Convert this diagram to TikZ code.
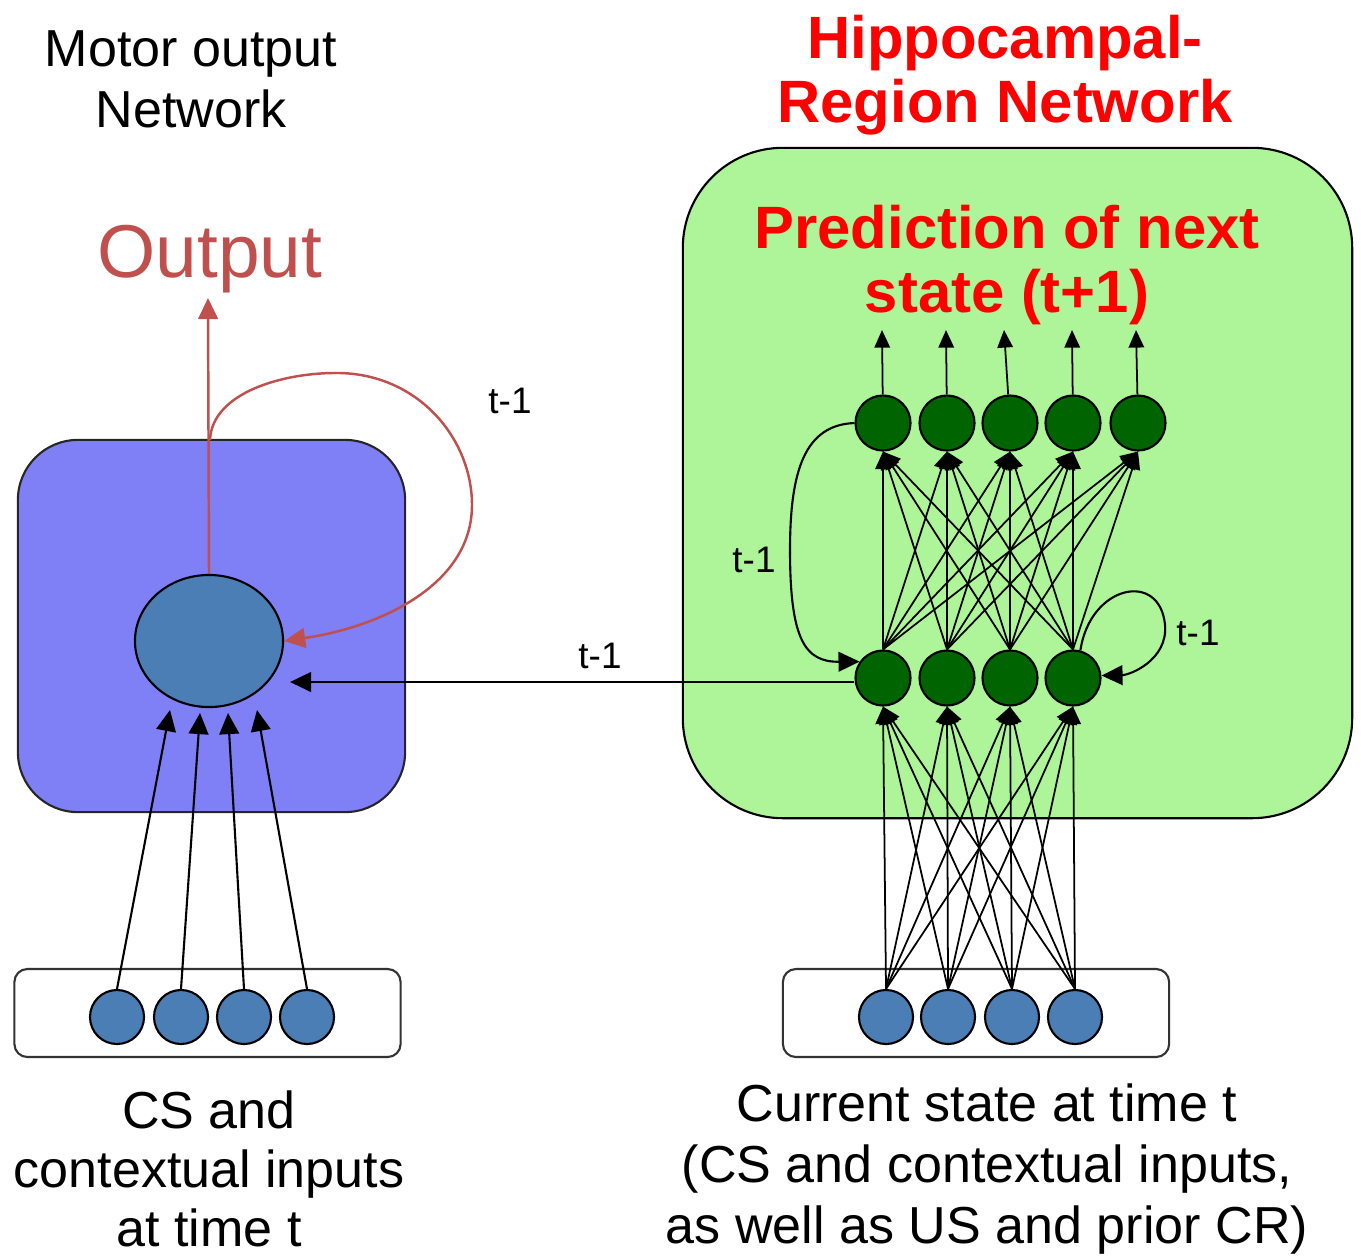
\documentclass[tikz,border=0pt]{standalone}
\usepackage{fontspec}
\setmainfont{Liberation Sans}
\usepackage[svgnames]{xcolor}
\usepackage{tikz}
\usetikzlibrary{arrows.meta,shapes}
\definecolor{motorfill}{RGB}{127,127,246}
\definecolor{hippofill}{RGB}{173,245,152}
\definecolor{unitblue}{RGB}{74,126,181}
\definecolor{hiddengreen}{RGB}{0,100,0}
\definecolor{outred}{RGB}{192,80,77}
\definecolor{titlered}{RGB}{255,0,0}
\pgfdeclarelayer{boxlayer}
\pgfdeclarelayer{edgelayer}
\pgfdeclarelayer{nodelayer}
\pgfsetlayers{boxlayer,edgelayer,nodelayer,main}
\tikzstyle{motorbox}=[rectangle,rounded corners=0.6cm,fill=motorfill,draw=black!85,line width=0.6pt,minimum width=3.87cm,minimum height=3.72cm]
\tikzstyle{hippobox}=[rectangle,rounded corners=1cm,fill=hippofill,draw=black,line width=0.6pt,minimum width=6.69cm,minimum height=6.70cm]
\tikzstyle{inputbox}=[rectangle,rounded corners=0.13cm,fill=white,draw=black!80,line width=0.6pt,minimum width=3.86cm,minimum height=0.88cm]
\tikzstyle{motorunit}=[ellipse,fill=unitblue,draw=black,line width=0.6pt,minimum width=1.48cm,minimum height=1.32cm,inner sep=0pt]
\tikzstyle{unit}=[circle,fill=unitblue,draw=black,line width=0.6pt,minimum size=0.54cm,inner sep=0pt]
\tikzstyle{hidden}=[circle,fill=hiddengreen,draw=black,line width=0.6pt,minimum size=0.55cm,inner sep=0pt]
\tikzstyle{inarrow}=[-{Triangle[length=6pt,width=5.6pt]},line width=0.6pt]
\tikzstyle{netarrow}=[-{Triangle[length=5pt,width=4.4pt]},line width=0.5pt]
\tikzstyle{redarrow}=[-{Triangle[length=6pt,width=5.6pt]},draw=outred,line width=0.7pt]
\tikzstyle{title}=[align=center,inner sep=0pt,font=\fontsize{14.8}{17.4}\selectfont]
\tikzstyle{redtitle}=[align=center,inner sep=0pt,text=titlered,font=\fontsize{17}{18.3}\selectfont\bfseries]
\tikzstyle{outtext}=[inner sep=0pt,text=outred,font=\fontsize{21.3}{24}\selectfont]
\tikzstyle{tlabel}=[inner sep=0pt,font=\fontsize{10.5}{12}\selectfont]

\begin{document}
\begin{tikzpicture}[x=0.01cm,y=-0.01cm]
	\useasboundingbox (0,0) rectangle (1361,1257);
	\begin{pgfonlayer}{boxlayer}
		\node [style=motorbox] (motorbox) at (211.5,626) {};
		\node [style=hippobox] (hippobox) at (1017.5,483) {};
		\node [style=inputbox] (csbox) at (207.5,1013) {};
		\node [style=inputbox] (statebox) at (976,1013) {};
	\end{pgfonlayer}
	\begin{pgfonlayer}{nodelayer}
		\node [style=title] (motortitle) at (191,79) {Motor output\\Network};
		\node [style=redtitle] (hippotitle) at (1005,75) {Hippocampal-\\Region Network};
		\node [style=redtitle] (predtitle) at (1007,265) {Prediction of next\\state (t+1)};
		\node [style=outtext, anchor=base] (outtext) at (210,277) {Output};
		\node [style=title, font=\fontsize{14.8}{16.8}\selectfont] (cstext) at (209,1169) {CS and\\contextual inputs\\at time t};
		\node [style=title] (statetext) at (987,1169) {Current state at time t\\(CS and contextual inputs,\\as well as US and prior CR)};

		\node [style=motorunit] (motor) at (209,641) {};
		\node [style=unit] (in1) at (117,1017) {};
		\node [style=unit] (in2) at (181,1017) {};
		\node [style=unit] (in3) at (244,1017) {};
		\node [style=unit] (in4) at (307,1017) {};

		\node [style=unit] (rin1) at (886,1017) {};
		\node [style=unit] (rin2) at (948,1017) {};
		\node [style=unit] (rin3) at (1012,1017) {};
		\node [style=unit] (rin4) at (1075,1017) {};
		\node [style=hidden] (mid1) at (883,678) {};
		\node [style=hidden] (mid2) at (947,678) {};
		\node [style=hidden] (mid3) at (1010,678) {};
		\node [style=hidden] (mid4) at (1073,678) {};
		\node [style=hidden] (top1) at (883,423) {};
		\node [style=hidden] (top2) at (947,423) {};
		\node [style=hidden] (top3) at (1010,423) {};
		\node [style=hidden] (top4) at (1073,423) {};
		\node [style=hidden] (top5) at (1138,423) {};

		\node [style=tlabel, anchor=base] (tloop) at (510,413) {t-1};
		\node [style=tlabel, anchor=base] (tcross) at (600,668) {t-1};
		\node [style=tlabel, anchor=base] (tback) at (754,572) {t-1};
		\node [style=tlabel, anchor=base] (tself) at (1198,645) {t-1};

		\coordinate (outtip) at (208,298);
		\coordinate (split) at (210,440);
		\coordinate (tip1) at (170,710);
		\coordinate (tip2) at (200,713);
		\coordinate (tip3) at (228,713);
		\coordinate (tip4) at (257,710);
		\coordinate (tipH) at (290,682);
		\coordinate (pred1) at (882,330);
		\coordinate (pred2) at (946,330);
		\coordinate (pred3) at (1004,330);
		\coordinate (pred4) at (1072,330);
		\coordinate (pred5) at (1136,330);
	\end{pgfonlayer}
	\begin{pgfonlayer}{edgelayer}
		\draw [style=redarrow] (motor.north) to (outtip);
		\draw [style=redarrow] (split) .. controls (212,392) and (285,372) .. (340,373) .. controls (420,375) and (472,440) .. (472,505) .. controls (472,585) and (380,627) .. (motor.east);
		\draw [style=inarrow] (in1.north) to (tip1);
		\draw [style=inarrow] (in2.north) to (tip2);
		\draw [style=inarrow] (in3.north) to (tip3);
		\draw [style=inarrow] (in4.north) to (tip4);
		\draw [style=inarrow] (mid1.west |- tipH) to (tipH);

		\draw [style=netarrow] (rin1.north) to (mid1.south);
		\draw [style=netarrow] (rin1.north) to (mid2.south);
		\draw [style=netarrow] (rin1.north) to (mid3.south);
		\draw [style=netarrow] (rin1.north) to (mid4.south);
		\draw [style=netarrow] (rin2.north) to (mid1.south);
		\draw [style=netarrow] (rin2.north) to (mid2.south);
		\draw [style=netarrow] (rin2.north) to (mid3.south);
		\draw [style=netarrow] (rin2.north) to (mid4.south);
		\draw [style=netarrow] (rin3.north) to (mid1.south);
		\draw [style=netarrow] (rin3.north) to (mid2.south);
		\draw [style=netarrow] (rin3.north) to (mid3.south);
		\draw [style=netarrow] (rin3.north) to (mid4.south);
		\draw [style=netarrow] (rin4.north) to (mid1.south);
		\draw [style=netarrow] (rin4.north) to (mid2.south);
		\draw [style=netarrow] (rin4.north) to (mid3.south);
		\draw [style=netarrow] (rin4.north) to (mid4.south);

		\draw [style=netarrow] (mid1.north) to (top1.south);
		\draw [style=netarrow] (mid1.north) to (top2.south);
		\draw [style=netarrow] (mid1.north) to (top3.south);
		\draw [style=netarrow] (mid1.north) to (top4.south);
		\draw [style=netarrow] (mid1.north) to (top5.south);
		\draw [style=netarrow] (mid2.north) to (top1.south);
		\draw [style=netarrow] (mid2.north) to (top2.south);
		\draw [style=netarrow] (mid2.north) to (top3.south);
		\draw [style=netarrow] (mid2.north) to (top4.south);
		\draw [style=netarrow] (mid2.north) to (top5.south);
		\draw [style=netarrow] (mid3.north) to (top1.south);
		\draw [style=netarrow] (mid3.north) to (top2.south);
		\draw [style=netarrow] (mid3.north) to (top3.south);
		\draw [style=netarrow] (mid3.north) to (top4.south);
		\draw [style=netarrow] (mid3.north) to (top5.south);
		\draw [style=netarrow] (mid4.north) to (top1.south);
		\draw [style=netarrow] (mid4.north) to (top2.south);
		\draw [style=netarrow] (mid4.north) to (top3.south);
		\draw [style=netarrow] (mid4.north) to (top4.south);
		\draw [style=netarrow] (mid4.north) to (top5.south);

		\draw [style=netarrow] (top1) to (pred1);
		\draw [style=netarrow] (top2) to (pred2);
		\draw [style=netarrow] (top3) to (pred3);
		\draw [style=netarrow] (top4) to (pred4);
		\draw [style=netarrow] (top5) to (pred5);

		\draw [style=inarrow] (top1.west) .. controls (805,425) and (790,470) .. (790,550) .. controls (790,640) and (805,662) .. (mid1.145);
		\draw [style=inarrow] (mid4.75) .. controls (1090,585) and (1160,570) .. (1165,625) .. controls (1168,660) and (1130,675) .. (mid4.5);
	\end{pgfonlayer}
\end{tikzpicture}
\end{document}
